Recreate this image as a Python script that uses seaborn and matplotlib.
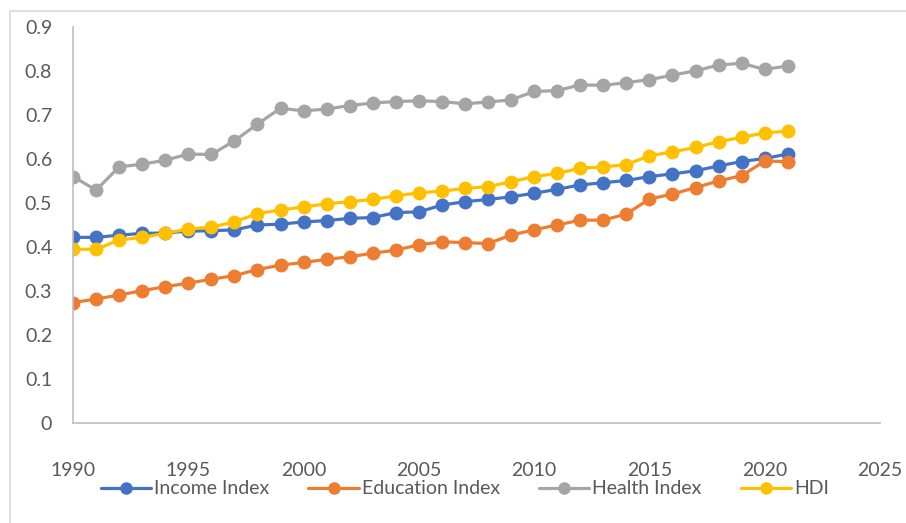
import numpy as np
import pandas as pd
import matplotlib
matplotlib.use('Agg')
import matplotlib.pyplot as plt
import seaborn as sns
from matplotlib.patches import Rectangle

# ---------- DATA ----------
years = list(range(1990, 2022))
income_index = [0.422, 0.422, 0.427, 0.431, 0.432, 0.436, 0.437, 0.439, 0.450, 0.452,
                0.457, 0.460, 0.465, 0.467, 0.478, 0.480, 0.495, 0.503, 0.508, 0.514,
                0.522, 0.531, 0.541, 0.546, 0.551, 0.560, 0.566, 0.573, 0.584, 0.594,
                0.601, 0.611]
education_index = [0.274, 0.282, 0.291, 0.301, 0.310, 0.318, 0.327, 0.335, 0.349, 0.359,
                   0.365, 0.372, 0.378, 0.386, 0.393, 0.405, 0.412, 0.410, 0.408, 0.427,
                   0.439, 0.450, 0.461, 0.461, 0.475, 0.509, 0.520, 0.535, 0.550, 0.562,
                   0.595, 0.594]
health_index = [0.560, 0.529, 0.582, 0.588, 0.597, 0.611, 0.610, 0.641, 0.679, 0.715,
                0.709, 0.713, 0.721, 0.727, 0.730, 0.732, 0.730, 0.725, 0.729, 0.734,
                0.753, 0.755, 0.768, 0.767, 0.773, 0.780, 0.790, 0.800, 0.813, 0.817,
                0.803, 0.811]
hdi = [0.395, 0.395, 0.416, 0.422, 0.431, 0.441, 0.445, 0.457, 0.476, 0.484,
       0.491, 0.498, 0.503, 0.508, 0.516, 0.523, 0.527, 0.533, 0.537, 0.548,
       0.560, 0.567, 0.579, 0.582, 0.587, 0.607, 0.616, 0.626, 0.639, 0.649,
       0.659, 0.663]
series_names = ['Income Index', 'Education Index', 'Health Index', 'HDI']
colors = ['#4472C4', '#ED7D31', '#A5A5A5', '#FFC000']
x_ticks = [1990, 1995, 2000, 2005, 2010, 2015, 2020, 2025]
y_ticks = [0, 0.1, 0.2, 0.3, 0.4, 0.5, 0.6, 0.7, 0.8, 0.9]

df = pd.DataFrame({'Year': years, 'Income Index': income_index,
                   'Education Index': education_index,
                   'Health Index': health_index, 'HDI': hdi})
long = df.melt(id_vars='Year', var_name='Series', value_name='Value')

# ---------- PLOT ----------
sns.set_style('white')
plt.rcParams['font.family'] = ['Lato', 'DejaVu Sans']

fig = plt.figure(figsize=(9.06, 5.23), dpi=100)
# light chart-area frame (left and top edges visible)
fig.patches.append(Rectangle((10 / 906, -0.1), 1.0, 1 - 11 / 523 + 0.1,
                             transform=fig.transFigure, fill=False,
                             edgecolor='#D9D9D9', linewidth=1.2))
ax = fig.add_axes([73 / 906, 99.7 / 523, (880 - 73) / 906, (423.3 - 26.7) / 523])

sns.lineplot(data=long, x='Year', y='Value', hue='Series', hue_order=series_names,
             palette=colors, marker='o', markersize=10, markeredgewidth=0,
             linewidth=2.3, ax=ax, legend=False)

ax.set_xlim(1990, 2025)
ax.set_ylim(0, 0.9)
ax.set_xticks(x_ticks)
ax.set_yticks(y_ticks)
ax.set_yticklabels(['0'] + [f'{v:.1f}' for v in y_ticks[1:]])
ax.set_xlabel('')
ax.set_ylabel('')
ax.tick_params(axis='x', length=0, pad=28, labelsize=14, labelcolor='#595959')
ax.tick_params(axis='y', length=0, pad=15, labelsize=14, labelcolor='#595959')
for s in ['top', 'right']:
    ax.spines[s].set_visible(False)
for s in ['left', 'bottom']:
    ax.spines[s].set_color('#BFBFBF')
    ax.spines[s].set_linewidth(1.2)

handles = [plt.Line2D([], [], color=c, marker='o', markersize=8, linewidth=2.3)
           for c in colors]
fig.legend(handles, series_names, loc='center', bbox_to_anchor=(0.513, 1 - 489 / 523),
           ncol=4, frameon=False, fontsize=14, handlelength=2.6, handletextpad=0.15,
           columnspacing=2.0, labelcolor='#595959')

fig.savefig('out.png', dpi=100)
